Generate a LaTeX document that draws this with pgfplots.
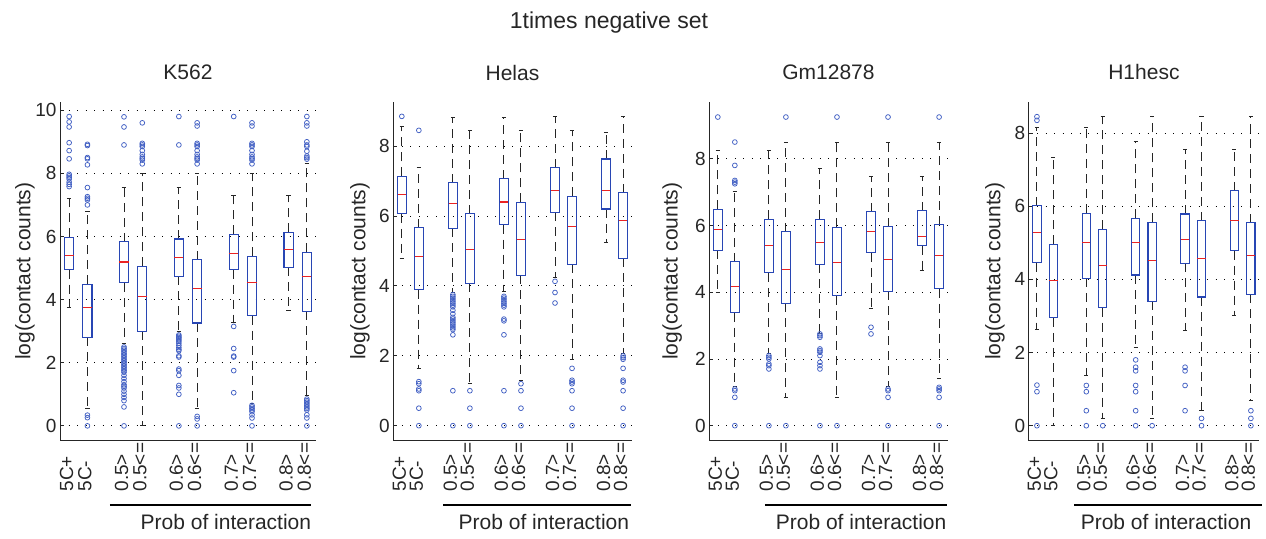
\documentclass[border=0pt]{standalone}
\usepackage{pgfplots}
\pgfplotsset{compat=1.18}
\usepgfplotslibrary{statistics}
\usepackage{fontspec}
\setmainfont{Liberation Sans}
\definecolor{mblue}{RGB}{40,70,180}
\definecolor{oblue}{RGB}{65,95,195}
\definecolor{mred}{RGB}{235,35,35}
\definecolor{axgray}{RGB}{38,38,38}

\pgfplotsset{
 boxplot/draw/lower whisker/.code={%
   \draw[/pgfplots/boxplot/every whisker/.try, dash pattern=on 9pt off 6pt]
     (boxplot box cs:\pgfplotsboxplotvalue{lower quartile},0.5) -- (boxplot box cs:\pgfplotsboxplotvalue{lower whisker},0.5);
   \draw[/pgfplots/boxplot/every whisker/.try, solid]
     (boxplot whisker cs:\pgfplotsboxplotvalue{lower whisker},0) -- (boxplot whisker cs:\pgfplotsboxplotvalue{lower whisker},1);
 },
 boxplot/draw/upper whisker/.code={%
   \draw[/pgfplots/boxplot/every whisker/.try, dash pattern=on 9pt off 6pt]
     (boxplot box cs:\pgfplotsboxplotvalue{upper quartile},0.5) -- (boxplot box cs:\pgfplotsboxplotvalue{upper whisker},0.5);
   \draw[/pgfplots/boxplot/every whisker/.try, solid]
     (boxplot whisker cs:\pgfplotsboxplotvalue{upper whisker},0) -- (boxplot whisker cs:\pgfplotsboxplotvalue{upper whisker},1);
 },
 panel/.style={
   scale only axis, height=339pt, xmin=0.5, xmax=14.5,
   axis x line*=bottom, axis y line*=left,
   axis line style={axgray, line width=0.9pt},
   xtick={1,2,4,5,7,8,10,11,13,14},
   xticklabels={5C+,5C-,0.5>,0.5<=,0.6>,0.6<=,0.7>,0.7<=,0.8>,0.8<=},
   x tick style={draw=none},
   xticklabel style={xshift=-2.5pt, rotate=90, anchor=west, inner sep=0pt},
   xticklabel shift=51pt,
   y tick style={axgray, line width=0.8pt},
   tick align=inside, major tick length=4pt,
   ymajorgrids, grid style={black, line width=0.9pt, dash pattern=on 1pt off 7.5pt},
   tick label style={font=\fontsize{19}{22}\selectfont, text=axgray},
   /pgf/number format/assume math mode=true,
   title style={font=\fontsize{21}{24}\selectfont, text=axgray, at={(axis description cs:0.5,1)}, anchor=base, yshift=15.7pt, inner sep=0pt},
   ylabel={log(contact counts)},
   clip=false,
   boxplot/draw direction=y,
   boxplot/box extend=0.5, boxplot/whisker extend=0.25,
   boxplot/every box/.style={draw=mblue, line width=1.1pt},
   boxplot/every median/.style={draw=mred, line width=1.1pt},
   boxplot/every whisker/.style={draw=black!85, line width=1pt},
 },
 ylabx/.style={every axis y label/.style={at={(axis description cs:#1,0.5)}, rotate=90, anchor=north, inner sep=0pt, font=\fontsize{21}{24}\selectfont, text=axgray}},
 bp/.style={mblue, mark=o, mark size=2.4pt, mark options={solid, draw=oblue, line width=0.75pt}},
}
\newcommand{\probline}[4]{%
  \draw[black, line width=1.3pt] (axis description cs:#1,-0.19) -- (axis description cs:#2,-0.19);
  \node[anchor=base, inner sep=0pt, font=\fontsize{21}{24}\selectfont, text=axgray] at (axis description cs:#3,-0.261) {#4};
}

\begin{document}
\begin{tikzpicture}
\useasboundingbox (0,0) rectangle (1266pt,538pt);
\node[anchor=base, inner sep=0pt, font=\fontsize{23}{26}\selectfont, text=axgray] at (609pt,509.7pt) {1times negative set};

% ---------------- K562
\begin{axis}[panel, at={(60pt,97.3pt)}, anchor=south west, width=256pt,
  ymin=-0.47, ymax=10.27, ytick={0,2,4,6,8,10}, title={K562}, ylabx=-0.176]
\addplot[bp, boxplot prepared={draw position=1, lower whisker=3.76, lower quartile=4.95, median=5.40, upper quartile=5.98, upper whisker=7.2}]
 table[row sep=\\, y index=0]{y\\7.58\\7.65\\7.72\\7.82\\7.87\\7.92\\7.97\\8.46\\8.72\\8.97\\9.47\\9.63\\9.8\\};
\addplot[bp, boxplot prepared={draw position=2, lower whisker=0.55, lower quartile=2.81, median=3.74, upper quartile=4.49, upper whisker=6.8}]
 table[row sep=\\, y index=0]{y\\7.0\\7.16\\7.21\\7.26\\7.55\\8.27\\8.46\\8.5\\8.88\\8.92\\0.34\\0.26\\0\\};
\addplot[bp, boxplot prepared={draw position=4, lower whisker=2.6, lower quartile=4.53, median=5.19, upper quartile=5.84, upper whisker=7.55}]
 table[row sep=\\, y index=0]{y\\8.9\\9.47\\9.79\\2.5\\2.45\\2.4\\2.35\\2.3\\2.25\\2.2\\2.15\\2.1\\2.05\\2.0\\1.95\\1.9\\1.85\\1.8\\1.75\\1.7\\1.6\\1.5\\1.4\\1.3\\1.25\\1.2\\1.1\\1.0\\0.9\\0.8\\0.6\\0\\};
\addplot[bp, boxplot prepared={draw position=5, lower whisker=0, lower quartile=3.0, median=4.1, upper quartile=5.05, upper whisker=8.0}]
 table[row sep=\\, y index=0]{y\\8.3\\8.42\\8.47\\8.52\\8.6\\8.72\\8.85\\8.9\\8.95\\9.6\\};
\addplot[bp, boxplot prepared={draw position=7, lower whisker=3.0, lower quartile=4.74, median=5.32, upper quartile=5.92, upper whisker=7.56}]
 table[row sep=\\, y index=0]{y\\8.9\\9.8\\2.88\\2.84\\2.8\\2.76\\2.72\\2.68\\2.62\\2.55\\2.48\\2.42\\2.38\\2.22\\2.18\\1.8\\1.75\\1.6\\1.28\\1.2\\1.0\\0\\};
\addplot[bp, boxplot prepared={draw position=8, lower whisker=0.55, lower quartile=3.26, median=4.36, upper quartile=5.26, upper whisker=8.0}]
 table[row sep=\\, y index=0]{y\\8.3\\8.42\\8.47\\8.52\\8.6\\8.72\\8.85\\8.9\\8.95\\9.5\\9.6\\0.3\\0.22\\0\\};
\addplot[bp, boxplot prepared={draw position=10, lower whisker=3.26, lower quartile=4.95, median=5.45, upper quartile=6.07, upper whisker=7.31}]
 table[row sep=\\, y index=0]{y\\9.8\\3.15\\2.45\\2.21\\2.18\\1.75\\1.05\\};
\addplot[bp, boxplot prepared={draw position=11, lower whisker=0.72, lower quartile=3.49, median=4.55, upper quartile=5.37, upper whisker=8.0}]
 table[row sep=\\, y index=0]{y\\8.3\\8.42\\8.47\\8.52\\8.6\\8.72\\8.85\\8.9\\8.95\\9.5\\9.6\\0.65\\0.6\\0.55\\0.5\\0.45\\0.35\\0.25\\0\\};
\addplot[bp, boxplot prepared={draw position=13, lower whisker=3.67, lower quartile=5.03, median=5.58, upper quartile=6.13, upper whisker=7.31}]
 coordinates {};
\addplot[bp, boxplot prepared={draw position=14, lower whisker=0.95, lower quartile=3.63, median=4.72, upper quartile=5.5, upper whisker=8.3}]
 table[row sep=\\, y index=0]{y\\8.45\\8.5\\8.55\\8.7\\8.85\\8.9\\9.0\\9.5\\9.6\\9.8\\0.85\\0.8\\0.75\\0.7\\0.65\\0.6\\0.55\\0.5\\0.35\\0.25\\0\\};
\probline{0.195}{0.979}{0.648}{Prob of interaction}
\end{axis}

% ---------------- Helas
\begin{axis}[panel, at={(393.3pt,97.3pt)}, anchor=south west, width=238.3pt,
  ymin=-0.43, ymax=9.27, ytick={0,2,4,6,8}, title={Helas}, ylabx=-0.182]
\addplot[bp, boxplot prepared={draw position=1, lower whisker=4.79, lower quartile=6.06, median=6.61, upper quartile=7.13, upper whisker=8.56}]
 table[row sep=\\, y index=0]{y\\8.85\\};
\addplot[bp, boxplot prepared={draw position=2, lower whisker=1.64, lower quartile=3.89, median=4.83, upper quartile=5.67, upper whisker=7.4}]
 table[row sep=\\, y index=0]{y\\8.45\\1.26\\1.2\\1.05\\1.0\\0.5\\0\\};
\addplot[bp, boxplot prepared={draw position=4, lower whisker=3.8, lower quartile=5.65, median=6.35, upper quartile=6.95, upper whisker=8.83}]
 table[row sep=\\, y index=0]{y\\3.75\\3.7\\3.65\\3.6\\3.55\\3.5\\3.45\\3.4\\3.3\\3.2\\3.1\\3.05\\3.0\\2.95\\2.9\\2.85\\2.8\\2.75\\2.6\\1.0\\0\\};
\addplot[bp, boxplot prepared={draw position=5, lower whisker=1.21, lower quartile=4.07, median=5.05, upper quartile=6.06, upper whisker=8.44}]
 table[row sep=\\, y index=0]{y\\1.0\\0.5\\0\\};
\addplot[bp, boxplot prepared={draw position=7, lower whisker=3.83, lower quartile=5.75, median=6.4, upper quartile=7.07, upper whisker=8.83}]
 table[row sep=\\, y index=0]{y\\3.7\\3.65\\3.6\\3.55\\3.5\\3.45\\3.4\\3.05\\3.0\\2.6\\1.0\\0\\};
\addplot[bp, boxplot prepared={draw position=8, lower whisker=1.3, lower quartile=4.3, median=5.34, upper quartile=6.39, upper whisker=8.46}]
 table[row sep=\\, y index=0]{y\\1.2\\1.0\\0.5\\0\\};
\addplot[bp, boxplot prepared={draw position=10, lower whisker=4.23, lower quartile=6.1, median=6.73, upper quartile=7.38, upper whisker=8.85}]
 table[row sep=\\, y index=0]{y\\4.13\\3.81\\3.51\\};
\addplot[bp, boxplot prepared={draw position=11, lower whisker=1.9, lower quartile=4.62, median=5.69, upper quartile=6.56, upper whisker=8.46}]
 table[row sep=\\, y index=0]{y\\1.64\\1.3\\1.25\\1.2\\1.0\\0.5\\0\\};
\addplot[bp, boxplot prepared={draw position=13, lower whisker=5.24, lower quartile=6.2, median=6.73, upper quartile=7.63, upper whisker=8.38}]
 coordinates {};
\addplot[bp, boxplot prepared={draw position=14, lower whisker=2.07, lower quartile=4.79, median=5.87, upper quartile=6.66, upper whisker=8.85}]
 table[row sep=\\, y index=0]{y\\2.0\\1.95\\1.9\\1.64\\1.3\\1.25\\1.0\\0.5\\0\\};
\probline{0.209}{0.997}{0.632}{Prob of interaction}
\end{axis}

% ---------------- Gm12878
\begin{axis}[panel, at={(709.3pt,97.3pt)}, anchor=south west, width=238.3pt,
  ymin=-0.45, ymax=9.71, ytick={0,2,4,6,8}, title={Gm12878}, ylabx=-0.198]
\addplot[bp, boxplot prepared={draw position=1, lower whisker=4.0, lower quartile=5.26, median=5.87, upper quartile=6.48, upper whisker=8.24}]
 table[row sep=\\, y index=0]{y\\9.25\\};
\addplot[bp, boxplot prepared={draw position=2, lower whisker=1.17, lower quartile=3.39, median=4.18, upper quartile=4.91, upper whisker=7.03}]
 table[row sep=\\, y index=0]{y\\7.25\\7.3\\7.35\\7.8\\8.5\\1.1\\1.05\\0.85\\0\\};
\addplot[bp, boxplot prepared={draw position=4, lower whisker=2.17, lower quartile=4.58, median=5.4, upper quartile=6.18, upper whisker=8.24}]
 table[row sep=\\, y index=0]{y\\2.1\\2.05\\2.0\\1.85\\1.8\\1.7\\0\\};
\addplot[bp, boxplot prepared={draw position=5, lower whisker=0.84, lower quartile=3.67, median=4.68, upper quartile=5.81, upper whisker=8.5}]
 table[row sep=\\, y index=0]{y\\9.25\\0\\};
\addplot[bp, boxplot prepared={draw position=7, lower whisker=2.77, lower quartile=4.84, median=5.5, upper quartile=6.19, upper whisker=7.7}]
 table[row sep=\\, y index=0]{y\\2.75\\2.7\\2.65\\2.3\\2.25\\2.2\\2.1\\1.9\\1.8\\1.7\\0\\};
\addplot[bp, boxplot prepared={draw position=8, lower whisker=0.84, lower quartile=3.89, median=4.9, upper quartile=5.94, upper whisker=8.5}]
 table[row sep=\\, y index=0]{y\\9.25\\0\\};
\addplot[bp, boxplot prepared={draw position=10, lower whisker=3.52, lower quartile=5.18, median=5.83, upper quartile=6.41, upper whisker=7.46}]
 table[row sep=\\, y index=0]{y\\2.95\\2.75\\};
\addplot[bp, boxplot prepared={draw position=11, lower whisker=1.17, lower quartile=4.03, median=4.98, upper quartile=5.96, upper whisker=8.5}]
 table[row sep=\\, y index=0]{y\\9.25\\1.1\\1.05\\0.85\\0\\};
\addplot[bp, boxplot prepared={draw position=13, lower whisker=4.66, lower quartile=5.4, median=5.68, upper quartile=6.44, upper whisker=7.46}]
 coordinates {};
\addplot[bp, boxplot prepared={draw position=14, lower whisker=1.42, lower quartile=4.11, median=5.09, upper quartile=6.02, upper whisker=8.5}]
 table[row sep=\\, y index=0]{y\\9.25\\1.15\\1.1\\1.05\\0.85\\0\\};
\probline{0.233}{0.996}{0.637}{Prob of interaction}
\end{axis}

% ---------------- H1hesc
\begin{axis}[panel, at={(1028.7pt,97.3pt)}, anchor=south west, width=230.4pt,
  ymin=-0.41, ymax=8.86, ytick={0,2,4,6,8}, title={H1hesc}, ylabx=-0.19]
\addplot[bp, boxplot prepared={draw position=1, lower whisker=2.63, lower quartile=4.46, median=5.29, upper quartile=6.01, upper whisker=8.16}]
 table[row sep=\\, y index=0]{y\\8.35\\8.45\\1.11\\0.93\\0\\};
\addplot[bp, boxplot prepared={draw position=2, lower whisker=0, lower quartile=2.95, median=3.97, upper quartile=4.96, upper whisker=7.34}]
 coordinates {};
\addplot[bp, boxplot prepared={draw position=4, lower whisker=1.38, lower quartile=4.03, median=5.0, upper quartile=5.81, upper whisker=8.16}]
 table[row sep=\\, y index=0]{y\\1.1\\0.93\\0.41\\0\\};
\addplot[bp, boxplot prepared={draw position=5, lower whisker=0.2, lower quartile=3.23, median=4.37, upper quartile=5.37, upper whisker=8.46}]
 table[row sep=\\, y index=0]{y\\0\\};
\addplot[bp, boxplot prepared={draw position=7, lower whisker=2.13, lower quartile=4.12, median=5.0, upper quartile=5.67, upper whisker=7.77}]
 table[row sep=\\, y index=0]{y\\1.8\\1.6\\1.5\\1.1\\0.93\\0.41\\0\\};
\addplot[bp, boxplot prepared={draw position=8, lower whisker=0.2, lower quartile=3.4, median=4.52, upper quartile=5.56, upper whisker=8.46}]
 table[row sep=\\, y index=0]{y\\0\\};
\addplot[bp, boxplot prepared={draw position=10, lower whisker=2.61, lower quartile=4.44, median=5.1, upper quartile=5.79, upper whisker=7.54}]
 table[row sep=\\, y index=0]{y\\1.6\\1.5\\1.1\\0.41\\};
\addplot[bp, boxplot prepared={draw position=11, lower whisker=0.41, lower quartile=3.52, median=4.58, upper quartile=5.61, upper whisker=8.46}]
 table[row sep=\\, y index=0]{y\\0.2\\0\\};
\addplot[bp, boxplot prepared={draw position=13, lower whisker=3.02, lower quartile=4.79, median=5.6, upper quartile=6.43, upper whisker=7.54}]
 coordinates {};
\addplot[bp, boxplot prepared={draw position=14, lower whisker=0.7, lower quartile=3.59, median=4.66, upper quartile=5.55, upper whisker=8.46}]
 table[row sep=\\, y index=0]{y\\0.41\\0.2\\0\\};
\probline{0.197}{1.011}{0.596}{Prob of interaction}
\end{axis}
\end{tikzpicture}
\end{document}
